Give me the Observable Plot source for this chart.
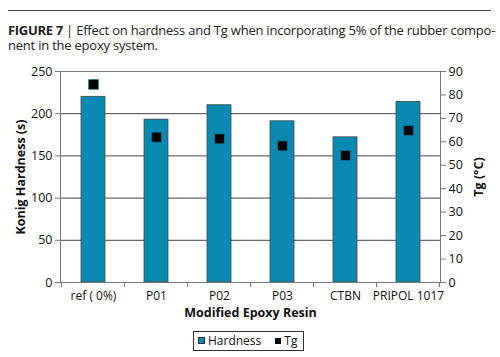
<!DOCTYPE html>
<html><head><meta charset="utf-8">
<script src="https://cdn.jsdelivr.net/npm/d3@7"></script>
<script src="https://cdn.jsdelivr.net/npm/@observablehq/plot@0.6"></script>
<style>
body{margin:0;background:#fff;width:500px;height:357px;overflow:hidden;font-family:"Open Sans",sans-serif;position:relative;}
#rule{position:absolute;left:8px;top:10px;width:483px;height:0;border-top:1.5px solid #444;}
.tl{position:absolute;left:8px;font-size:13px;line-height:15px;color:#222;white-space:nowrap;letter-spacing:-0.22px;}
#t1{top:23px;} #t2{top:38px;}
#t1 b{font-weight:700;letter-spacing:-0.3px;color:#222;}
#chart{position:absolute;left:0;top:58px;}
#legend{position:absolute;left:193px;top:331px;width:109px;height:18px;border:1px solid #333;font-size:12px;line-height:18px;color:#111;white-space:nowrap;}
#legend span.sw{display:inline-block;width:5px;height:5px;vertical-align:middle;margin-top:-2px;}
</style></head><body>
<div id="rule"></div>
<div class="tl" id="t1"><b>FIGURE 7</b><span> | Effect on hardness and Tg when incorporating 5% of the rubber compo-</span></div>
<div class="tl" id="t2">nent in the epoxy system.</div>
<div id="chart"></div>
<div id="legend"><span class="sw" style="background:#0a8ab3;border:1px solid #333;margin-left:4px;margin-right:3px;"></span>Hardness<span class="sw" style="background:#000;width:6px;height:6px;margin-left:14px;margin-right:3px;"></span>Tg</div>
<script>
const categories = ["ref ( 0%)", "P01", "P02", "P03", "CTBN", "PRIPOL 1017"];
const hardness = [220, 193, 210, 191, 172, 214];
const tg = [84.5, 62, 61.3, 58.3, 54.2, 64.8];
const hardnessTicks = [0, 50, 100, 150, 200, 250];
const tgTicks = [0, 10, 20, 30, 40, 50, 60, 70, 80, 90];
const hardnessMax = 250, tgMax = 90;

const data = categories.map((c, i) => ({cat: c, hardness: hardness[i], tg: tg[i]}));
const toH = v => v * hardnessMax / tgMax;

const chart = Plot.plot({
  width: 500, height: 268,
  marginTop: 13, marginBottom: 44, marginLeft: 60, marginRight: 60,
  style: {fontFamily: "Open Sans", fontSize: "12px", color: "#111", background: "transparent"},
  x: {domain: categories, paddingInner: 0.62, paddingOuter: 0.31, label: null},
  y: {domain: [0, hardnessMax], label: null},
  marks: [
    Plot.gridY(hardnessTicks, {stroke: "#444", strokeOpacity: 1, strokeWidth: 1}),
    Plot.barY(data, {x: "cat", y: "hardness", fill: "#0a8ab3", stroke: "#444", strokeWidth: 0.8}),
    Plot.dot(data, {x: "cat", y: d => toH(d.tg), symbol: "square", r: 5.6, fill: "#000", stroke: "#0a8ab3", strokeWidth: 0.6}),
    Plot.frame({stroke: "#777", strokeWidth: 1}),
    Plot.axisY(hardnessTicks, {anchor: "left", tickSize: 5, tickPadding: 3, stroke: "#777", fontSize: 12.5, label: null}),
    Plot.axisY(tgTicks.map(toH), {anchor: "right", tickSize: 5, tickPadding: 3, stroke: "#777", fontSize: 12.5, tickFormat: d => Math.round(d * tgMax / hardnessMax), label: null}),
    Plot.axisX({tickSize: 0, tickPadding: 9, fontSize: 12, label: null}),
    Plot.text(["Konig Hardness (s)"], {frameAnchor: "left", textAnchor: "middle", dx: -40, rotate: -90, fontWeight: "bold", fontSize: 12.5}),
    Plot.text(["Tg (°C)"], {frameAnchor: "right", textAnchor: "middle", dx: 38, rotate: -90, fontWeight: "bold", fontSize: 12.5}),
    Plot.text(["Modified Epoxy Resin"], {frameAnchor: "bottom", dy: 34, fontWeight: "bold", fontSize: 12.5})
  ]
});
document.getElementById("chart").appendChild(chart);

// band-boundary tick marks on the category axis, placed with Plot's own scales
const sx = chart.scale("x"), sy = chart.scale("y");
const y0 = sy.apply(0);
const gap = (sx.step - sx.bandwidth) / 2;
const bounds = categories.map(c => sx.apply(c) - gap).concat([sx.apply(categories[categories.length - 1]) + sx.bandwidth + gap]);
d3.select(chart).append("g").attr("stroke", "#777")
  .selectAll("line").data(bounds).join("line")
  .attr("x1", d => d).attr("x2", d => d).attr("y1", y0).attr("y2", y0 + 5);
</script>
</body></html>
